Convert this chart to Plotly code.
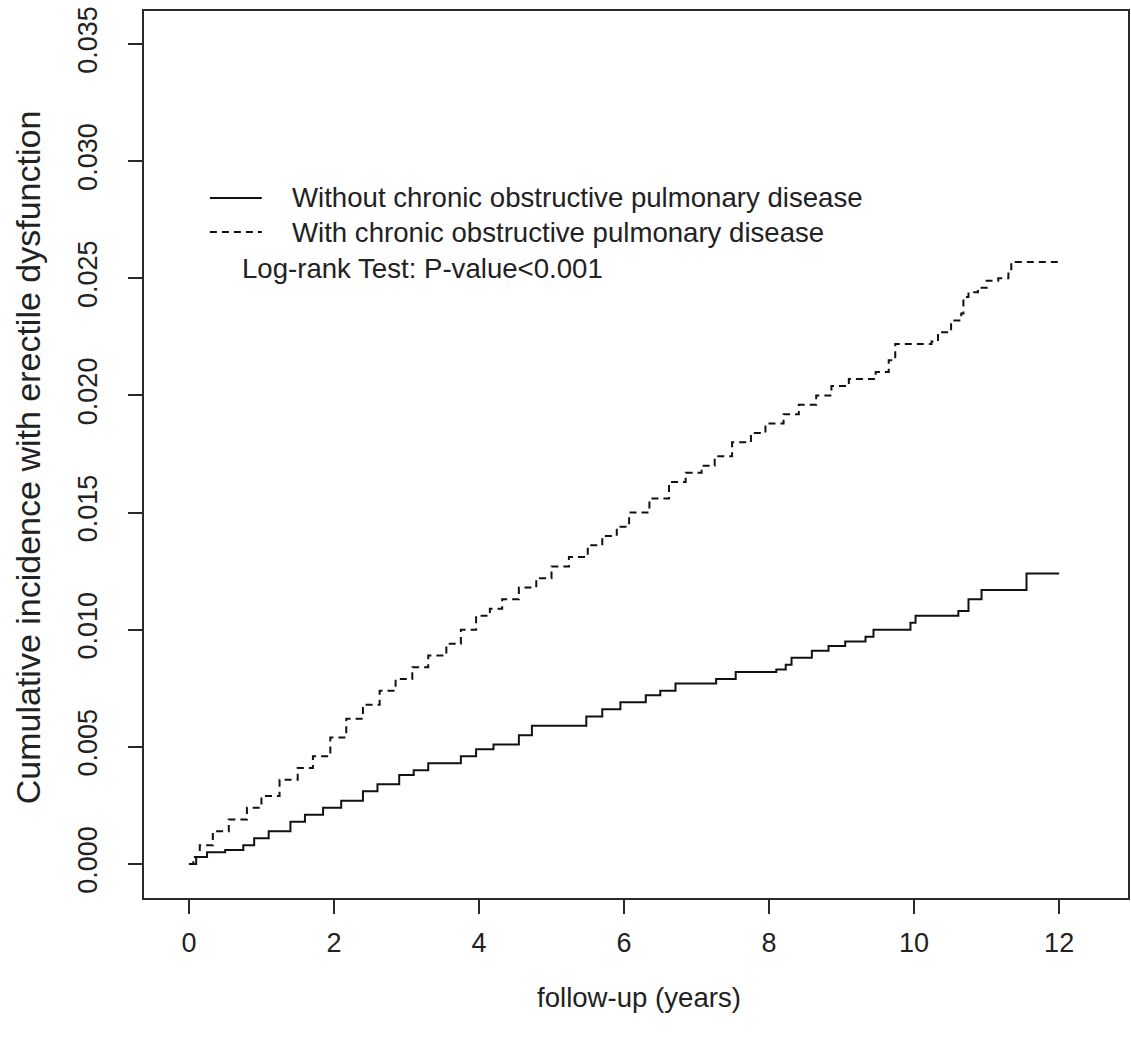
import plotly.graph_objects as go

# ---- data ----
years_without = [0, 0.1, 0.25, 0.5, 0.75, 0.9, 1.1, 1.4, 1.6, 1.85, 2.1, 2.4, 2.6, 2.9, 3.1, 3.3, 3.55,
                 3.75, 3.96, 4.2, 4.55, 4.73, 5.24, 5.48, 5.7, 5.95, 6.3, 6.5, 6.71, 7.27, 7.54, 7.95,
                 8.1, 8.23, 8.31, 8.59, 8.82, 9.05, 9.33, 9.44, 9.83, 9.95, 10.02, 10.54, 10.61, 10.75,
                 10.93, 11.55, 12.0]
inc_without = [0, 0.0003, 0.0005, 0.0006, 0.0008, 0.0011, 0.0014, 0.0018, 0.0021, 0.0024, 0.0027, 0.0031,
               0.0034, 0.0038, 0.0040, 0.0043, 0.0043, 0.0046, 0.0049, 0.0051, 0.0055, 0.0059, 0.0059,
               0.0063, 0.0066, 0.0069, 0.0072, 0.0074, 0.0077, 0.0079, 0.0082, 0.0082, 0.0083, 0.0085,
               0.0088, 0.0091, 0.0093, 0.0095, 0.0097, 0.0100, 0.0100, 0.0103, 0.0106, 0.0106, 0.0108,
               0.0113, 0.0117, 0.0124, 0.0124]

years_with = [0, 0.06, 0.15, 0.33, 0.55, 0.8, 1.0, 1.25, 1.5, 1.71, 1.95, 2.17, 2.4, 2.63, 2.85, 3.08,
              3.3, 3.55, 3.75, 3.96, 4.15, 4.32, 4.55, 4.79, 5.0, 5.24, 5.5, 5.7, 5.9, 6.07, 6.35, 6.62,
              6.85, 7.07, 7.25, 7.49, 7.75, 7.95, 8.2, 8.41, 8.65, 8.86, 9.1, 9.47, 9.65, 9.74, 10.24,
              10.33, 10.51, 10.65, 10.68, 10.75, 10.88, 11.0, 11.16, 11.3, 11.34, 12.0]
inc_with = [0, 0.0003, 0.0008, 0.0014, 0.0019, 0.0024, 0.0029, 0.0036, 0.0041, 0.0046, 0.0054, 0.0062,
            0.0068, 0.0074, 0.0079, 0.0084, 0.0089, 0.0094, 0.0100, 0.0106, 0.0109, 0.0113, 0.0118,
            0.0122, 0.0127, 0.0131, 0.0136, 0.0140, 0.0144, 0.0150, 0.0156, 0.0163, 0.0167, 0.0170,
            0.0174, 0.0180, 0.0184, 0.0188, 0.0192, 0.0196, 0.0200, 0.0204, 0.0207, 0.0210, 0.0215,
            0.0222, 0.0223, 0.0227, 0.0232, 0.0235, 0.0242, 0.0244, 0.0246, 0.0249, 0.0250, 0.0252,
            0.0257, 0.0257]

x_ticks = [0, 2, 4, 6, 8, 10, 12]
y_ticks = [0.000, 0.005, 0.010, 0.015, 0.020, 0.025, 0.030, 0.035]
y_tick_labels = ["0.000", "0.005", "0.010", "0.015", "0.020", "0.025", "0.030", "0.035"]

legend_labels = ["Without chronic obstructive pulmonary disease",
                 "With chronic obstructive pulmonary disease"]
test_text = "Log-rank Test: P-value<0.001"
x_title = "follow-up (years)"
y_title = "Cumulative incidence with erectile dysfunction"

# ---- layout geometry (pixels) ----
W, H = 1131, 1038
L, R, T, B = 144, 1130, 11, 898
FONT = "Liberation Sans, Arial, sans-serif"
TXT = "#222222"
LINE = "#2a2a2a"


def px(x):
    return (x - L) / (R - L)


def py(y):
    return (B - y) / (B - T)


fig = go.Figure()
fig.add_trace(go.Scatter(x=years_without, y=inc_without, mode="lines", line_shape="hv",
                         line=dict(color="#111111", width=2), name=legend_labels[0],
                         showlegend=False))
fig.add_trace(go.Scatter(x=years_with, y=inc_with, mode="lines", line_shape="hv",
                         line=dict(color="#111111", width=2, dash="7px,5px"), name=legend_labels[1],
                         showlegend=False))

# legend drawn manually
legend_rows = [198, 232]
dashes = ["solid", "7px,5px"]
for row_y, lbl, d in zip(legend_rows, legend_labels, dashes):
    fig.add_shape(type="line", xref="paper", yref="paper", x0=px(210), x1=px(262),
                  y0=py(row_y), y1=py(row_y), line=dict(color="#111111", width=2, dash=d))
    fig.add_annotation(xref="paper", yref="paper", x=px(290), y=py(row_y), text=lbl,
                       showarrow=False, xanchor="left", yanchor="middle",
                       font=dict(family=FONT, size=27.6, color=TXT))
fig.add_annotation(xref="paper", yref="paper", x=px(240), y=py(268), text=test_text,
                   showarrow=False, xanchor="left", yanchor="middle",
                   font=dict(family=FONT, size=27.6, color=TXT))

# axis titles
fig.add_annotation(xref="paper", yref="paper", x=px(640), y=py(997), text=x_title,
                   showarrow=False, xanchor="center", yanchor="middle",
                   font=dict(family=FONT, size=27.6, color=TXT))
fig.add_annotation(xref="paper", yref="paper", x=px(28), y=py(457), text=y_title,
                   showarrow=False, xanchor="center", yanchor="middle", textangle=-90,
                   font=dict(family=FONT, size=34, color=TXT))

x0 = 12 * (L - 189) / (1061 - 189)
x1 = 12 * (R - 189) / (1061 - 189)
ypp = 0.035 / (864 - 44)
y0 = -(B - 864) * ypp
y1 = 0.035 + (44 - T) * ypp

fig.update_layout(
    width=W, height=H,
    margin=dict(l=L, r=W - R, t=T, b=H - B, pad=0),
    paper_bgcolor="white", plot_bgcolor="white",
    showlegend=False,
    xaxis=dict(range=[x0, x1], tickmode="array", tickvals=x_ticks,
               ticks="outside", ticklen=14, tickwidth=2, tickcolor=LINE,
               showline=True, linewidth=2, linecolor=LINE, mirror=True,
               showgrid=False, zeroline=False, ticklabelstandoff=6,
               tickfont=dict(family=FONT, size=27, color=TXT)),
    yaxis=dict(range=[y0, y1], tickmode="array", tickvals=y_ticks, ticktext=y_tick_labels,
               ticks="outside", ticklen=14, tickwidth=2, tickcolor=LINE, tickangle=-90,
               showline=True, linewidth=2, linecolor=LINE, mirror=True,
               showgrid=False, zeroline=False, ticklabelstandoff=20,
               tickfont=dict(family=FONT, size=27, color=TXT)),
)

fig.write_html("out.html")
